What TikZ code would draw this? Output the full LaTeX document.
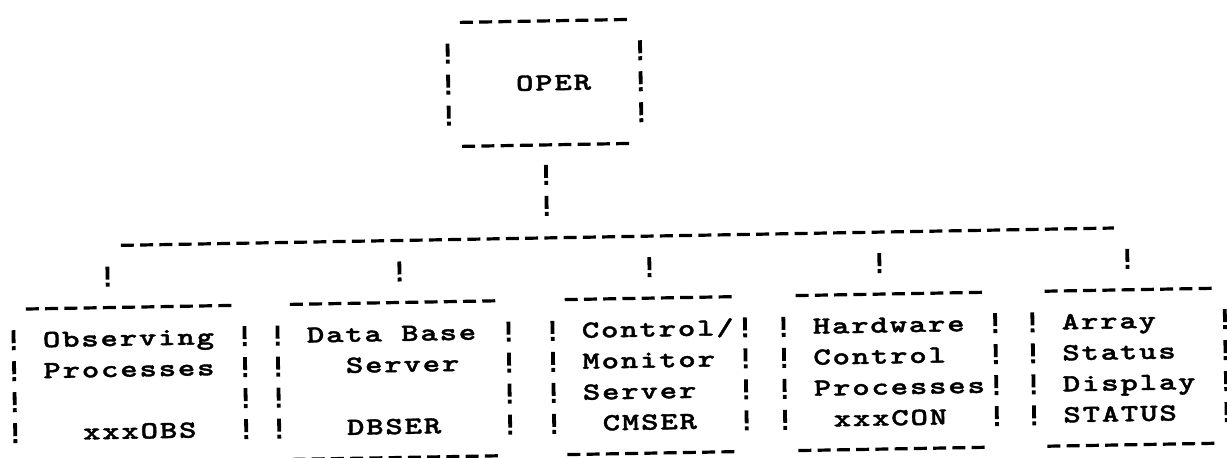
\documentclass[tikz,border=0pt]{standalone}
\usepackage{fontspec}
\newfontfamily\typer{lmmonolt10-bold.otf}[FakeStretch=1.35,LetterSpace=7.2,FakeBold=1.5]
\newcommand\col{\hspace*{9.625pt}}

\begin{document}
\begin{tikzpicture}[x=0.5pt,y=-0.5pt,tw/.style={font={\typer\fontsize{12.3}{15.5}\selectfont}, anchor=base west, inner sep=0pt, align=left},dashrow/.style={line width=1.6pt, dash pattern=on 6.5pt off 3.125pt},bangcol/.style={line width=1.9pt, dash pattern=on 6.5pt off 1.5pt on 2pt off 5.5pt}]
\path[fill=white,use as bounding box] (0,0) rectangle (1227,458);
\begin{scope}[rotate around={1:(600,300)},transform shape]
% frames: name / column of left bar / row of top rule / columns / text rows
\foreach \nm/\x/\y/\n/\m in {oper/452/20/10/3,obs/13/299/12/4,dbs/277/299/12/4,cms/552/299/10/4,hwc/783/299/11/4,ast/1032/299/10/4}{
  \pgfmathsetmacro\xa{\x+19.25-6.5}\pgfmathsetmacro\xb{\x+(\n-1)*19.25+6.5}\pgfmathsetmacro\xr{\x+\n*19.25}
  \pgfmathsetmacro\ya{\y+21}\pgfmathsetmacro\yc{\y+\m*31+10}\pgfmathsetmacro\yb{\y+(\m+1)*31}
  \draw[dashrow] (\xa,\y) -- (\xb,\y);\draw[dashrow] (\xa,\yb) -- (\xb,\yb);
  \draw[bangcol] (\x,\ya) -- (\x,\yc);\draw[bangcol] (\xr,\ya) -- (\xr,\yc);}
% text, placed on the baseline of the last line
\node[tw] (oper) at (519.4,89.5) {OPER};
\node[tw] (obs) at (41.9,430.5) {Observing\\Processes\\\col\\\col\col xxxOBS};
\node[tw] (dbs) at (305.9,430.5) {Data\col Base\\\col\col Server\\\col\\\col\col DBSER};
\node[tw] (cms) at (580.9,430.5) {Control/\\Monitor\\Server\\\col CMSER};
\node[tw] (hwc) at (811.9,430.5) {Hardware\\Control\\Processes\\\col xxxCON};
\node[tw] (ast) at (1060.9,430.5) {Array\\Status\\Display\\STATUS};
% OPER down to the bus, bus, drops to the five frames
\coordinate (opfoot) at (548.25,164);\coordinate (busin) at (548.25,215);\draw[bangcol] (opfoot) -- (busin);
\coordinate (busL) at (122,237);\coordinate (busR) at (1115,237);\draw[dashrow] (busL) -- (busR);
\foreach \x/\b in {108/obs,400/dbs,650/cms,880/hwc,1128/ast}{\coordinate (tap-\b) at (\x,258);\coordinate (drop-\b) at (\x,278);\draw[bangcol] (tap-\b) -- (drop-\b);}
\end{scope}
\end{tikzpicture}
\end{document}
